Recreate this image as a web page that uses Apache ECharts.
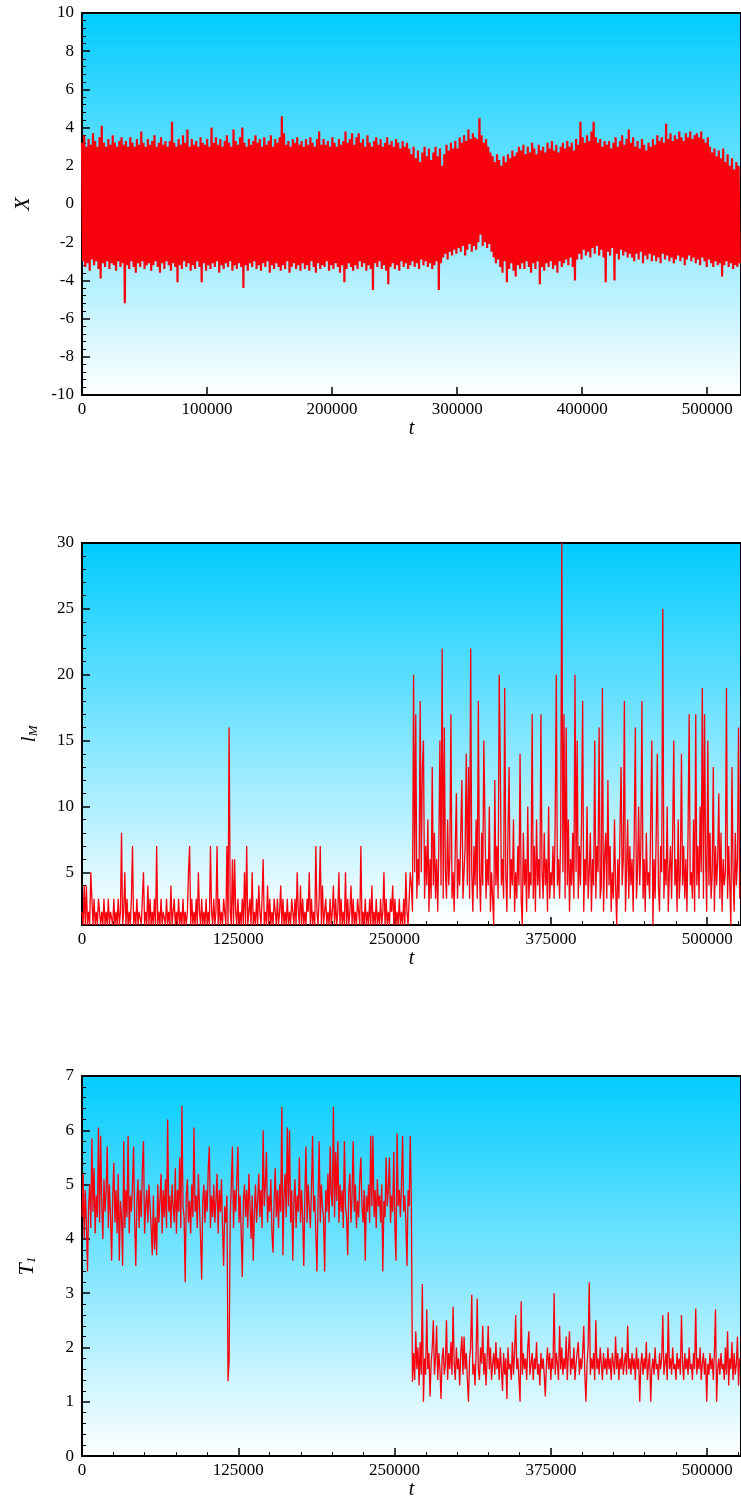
<!DOCTYPE html>
<html>
<head>
<meta charset="utf-8">
<script src="https://cdn.jsdelivr.net/npm/echarts@6/dist/echarts.min.js"></script>
<style>
  html, body { margin: 0; padding: 0; background: #fff; }
  #chart { width: 741px; height: 1501px; }
</style>
</head>
<body>
<div id="chart"></div>
<script>
// time between two stored samples
const sampleStep = 878;

// X(t), alternating upper / lower excursions of the band
const xValues = [
  3.2,-3.0,3.6,-3.3,3.0,-3.1,3.4,-3.5,3.1,-2.9,3.7,-3.2,3.3,-3.0,3.0,-3.4,3.5,-3.9,4.1,-3.1,
  3.2,-3.3,3.0,-3.0,3.4,-3.4,3.1,-3.1,3.6,-3.2,3.2,-3.5,3.0,-3.0,3.3,-3.3,3.5,-3.1,3.1,-5.2,
  3.3,-3.2,3.0,-3.4,3.5,-3.0,3.2,-3.3,3.0,-3.6,3.4,-3.1,3.1,-3.3,3.8,-3.0,3.2,-3.4,3.0,-3.2,
  3.4,-3.1,3.1,-3.5,3.3,-3.2,3.6,-3.0,3.0,-3.3,3.2,-3.6,3.5,-3.1,3.1,-3.4,3.3,-3.0,3.0,-3.2,
  3.3,-3.5,4.3,-3.1,3.2,-3.3,3.0,-4.1,3.4,-3.2,3.1,-3.4,3.6,-3.0,3.2,-3.3,3.9,-3.1,3.0,-3.5,
  3.4,-3.2,3.1,-3.4,3.3,-3.0,3.0,-3.3,3.5,-4.1,3.2,-3.1,3.1,-3.5,3.4,-3.2,3.0,-3.4,4.0,-3.1,
  3.2,-3.3,3.5,-3.0,3.1,-3.6,3.4,-3.2,3.0,-3.4,3.3,-3.1,3.6,-3.3,3.2,-3.0,3.0,-3.5,3.9,-3.2,
  3.3,-3.4,3.1,-3.1,3.5,-3.3,4.0,-4.4,3.2,-3.2,3.0,-3.5,3.4,-3.1,3.1,-3.3,3.3,-3.0,3.6,-3.4,
  3.2,-3.2,3.4,-3.5,3.0,-3.1,3.5,-3.3,3.1,-3.0,3.3,-3.6,3.6,-3.2,3.0,-3.4,3.4,-3.1,3.2,-3.3,
  3.5,-3.5,4.6,-3.2,3.7,-3.4,3.1,-3.0,3.3,-3.6,3.0,-3.3,3.4,-3.1,3.2,-3.4,3.5,-3.2,3.1,-3.5,
  3.3,-3.1,3.0,-3.4,3.4,-3.2,3.1,-3.5,3.5,-3.0,3.2,-3.3,3.0,-3.6,3.4,-3.1,3.8,-3.4,3.1,-3.2,
  3.4,-3.3,3.1,-3.0,3.3,-3.5,3.0,-3.2,3.5,-3.4,3.2,-3.1,3.0,-3.3,3.4,-3.6,3.1,-3.2,3.3,-4.1,
  3.8,-3.4,3.2,-3.1,3.4,-3.3,3.7,-3.5,3.1,-3.2,3.5,-3.4,3.7,-3.0,3.2,-3.3,3.4,-3.1,3.0,-3.5,
  3.6,-3.2,3.2,-3.4,3.0,-4.5,3.3,-3.1,3.5,-3.3,3.1,-3.0,3.4,-3.4,3.0,-3.2,3.2,-3.5,3.5,-4.2,
  3.1,-3.3,3.3,-3.1,3.0,-3.4,3.4,-3.2,3.2,-3.5,2.9,-3.0,3.3,-3.3,3.0,-3.1,3.2,-3.4,2.9,-3.2,
  2.6,-3.0,3.0,-3.3,2.4,-3.1,2.8,-3.4,2.2,-2.9,2.7,-3.2,3.0,-3.0,2.5,-3.3,2.9,-3.1,2.3,-3.4,
  2.7,-3.2,3.0,-3.0,2.5,-4.5,2.9,-3.1,2.0,-2.8,2.6,-2.6,3.1,-2.9,2.8,-2.5,3.2,-2.7,2.9,-2.4,
  3.3,-2.6,2.9,-2.3,3.5,-2.5,3.2,-2.2,3.6,-2.7,3.3,-2.4,3.9,-2.1,3.4,-2.5,3.7,-2.2,3.5,-2.4,
  3.4,-2.0,4.5,-1.6,3.6,-2.2,3.2,-2.0,3.4,-2.3,3.0,-2.1,2.7,-2.5,2.5,-2.8,2.2,-3.1,2.6,-2.9,
  2.3,-3.3,2.0,-3.6,2.5,-3.0,2.2,-4.1,2.6,-3.4,2.4,-3.1,2.8,-3.5,2.5,-3.8,2.7,-3.2,3.0,-3.4,
  2.8,-3.1,3.1,-3.4,2.6,-3.0,3.0,-3.3,2.7,-3.6,3.2,-3.1,2.9,-3.4,2.6,-3.0,3.1,-4.2,2.8,-3.3,
  3.0,-3.5,2.7,-3.1,3.2,-3.3,2.9,-3.0,3.3,-3.4,2.8,-3.2,3.1,-3.6,2.7,-3.0,3.0,-3.3,3.2,-3.1,
  2.9,-2.9,3.3,-3.2,3.0,-2.8,3.2,-3.3,2.8,-4.0,3.4,-2.9,3.1,-2.6,4.3,-2.9,3.5,-2.4,3.2,-2.7,
  3.6,-2.5,3.3,-2.8,3.8,-2.3,4.3,-2.6,3.5,-2.2,3.2,-2.7,3.4,-2.4,3.0,-2.8,3.3,-4.1,3.1,-2.5,
  3.3,-2.7,2.9,-2.3,3.2,-4.0,3.5,-2.6,3.0,-2.9,3.3,-2.4,3.6,-2.7,3.1,-2.5,3.4,-2.8,3.9,-2.6,
  3.2,-2.8,3.5,-3.0,3.0,-2.6,3.3,-2.9,2.9,-2.5,3.4,-3.1,3.1,-2.7,2.8,-2.9,3.2,-2.6,3.0,-3.0,
  3.4,-2.7,3.1,-3.0,3.6,-2.8,3.3,-3.1,3.5,-2.6,3.2,-2.9,4.2,-2.7,3.4,-3.0,3.7,-2.8,3.3,-3.1,
  3.6,-2.9,3.4,-2.7,3.8,-3.0,3.5,-2.8,3.3,-3.2,3.7,-2.9,3.5,-2.7,3.8,-3.0,3.4,-2.8,3.6,-3.1,
  3.7,-2.9,3.5,-3.2,3.8,-2.8,3.4,-3.0,3.2,-3.3,3.5,-2.9,3.0,-3.1,2.7,-3.3,2.9,-3.0,2.5,-3.2,
  2.8,-3.1,2.4,-3.8,2.9,-3.2,2.2,-3.0,2.6,-3.3,2.0,-3.1,2.4,-3.4,1.8,-3.2,2.2,-3.3,2.0,-3.1
];

// l_M(t)
const lmValues = [
  2,1,4,1,4,1,2,1,5,5, 1,3,1,2,1,3,2,1,2,1,
  3,1,2,1,3,1,2,2,1,3, 1,2,1,3,1,2,8,1,2,5,
  1,3,1,2,1,3,7,1,2,1, 3,1,2,2,1,3,5,1,2,1,
  4,1,3,1,2,1,3,1,7,1, 2,1,3,1,2,2,1,3,1,2,
  1,4,1,2,3,1,2,1,3,1, 2,1,3,1,2,1,2,5,7,1,
  3,1,2,1,3,1,5,2,1,3, 1,2,1,3,1,2,1,7,2,1,
  3,1,2,7,1,3,1,2,1,3, 2,1,7,1,16,2,1,6,1,6,
  2,1,3,1,2,1,3,1,5,1, 7,1,2,3,1,5,1,2,1,3,
  1,4,2,1,3,6,1,2,1,4, 1,3,1,2,1,3,2,1,3,1,
  2,4,1,3,1,2,1,3,1,2, 1,3,2,1,3,1,5,2,1,4,
  1,3,1,2,1,3,2,5,1,3, 1,2,1,7,2,1,3,7,1,4,
  1,2,3,1,2,1,3,1,2,4, 1,3,1,2,5,1,3,1,2,1,
  5,1,3,1,2,4,1,3,1,2, 1,3,2,1,7,1,2,1,3,1,
  2,1,3,1,4,1,2,1,3,1, 2,1,3,1,2,5,1,3,1,2,
  1,3,2,4,1,3,1,2,1,3, 1,2,1,3,1,5,2,1,3,5,
  4,2,20,5,17,3,6,4,18,5, 13,15,3,7,4,9,2,6,3,13,
  4,8,3,6,2,7,15,4,22,3, 16,5,3,9,4,6,17,3,5,2,
  7,11,3,6,4,8,12,3,5,7, 14,4,13,3,22,5,2,7,4,9,
  3,18,5,2,8,4,15,15,3,6, 4,10,2,5,3,1,12,4,7,3,
  20,13,4,6,3,19,5,2,8,13, 3,6,4,9,2,5,3,7,4,14,
  3,1,8,4,6,2,10,3,5,4, 17,3,7,2,9,4,6,3,17,5,
  3,8,4,6,2,10,3,5,4,7, 3,9,20,4,6,3,8,30,5,17,
  3,16,4,9,2,6,4,8,3,20, 5,15,3,7,4,9,18,2,6,4,
  10,3,5,8,2,6,4,15,3,7, 5,16,3,4,19,2,6,8,3,12,
  4,7,2,5,3,9,4,1,6,3, 8,13,4,6,18,2,5,9,3,7,
  4,6,2,8,16,3,5,10,4,7, 18,3,6,2,8,4,5,3,9,15,
  1,6,3,8,14,4,2,7,5,25, 3,6,4,10,2,5,7,3,8,15,
  4,6,2,9,3,5,14,4,7,3, 6,2,8,17,4,5,3,9,2,17,
  4,7,3,10,5,19,3,17,6,2, 15,4,8,3,5,13,2,7,4,6,
  11,3,8,2,6,4,5,19,3,7, 4,1,13,5,2,8,4,6,16,3
];

// T_1(t)
const t1Values = [
  4.4,5.2,4.0,4.9,4.3,3.4,4.6,5.0,4.2,5.85, 4.5,5.3,4.1,4.8,4.4,6.05,4.3,5.9,4.6,4.0,
  5.1,4.5,4.9,5.7,4.2,5.0,4.4,3.6,4.8,5.4, 4.3,4.9,4.1,5.2,3.6,4.7,4.4,3.5,5.8,4.2,
  4.9,4.4,5.9,4.1,4.8,4.5,5.0,5.7,4.3,3.5, 4.7,5.1,4.2,4.9,4.4,5.3,5.8,4.1,4.6,4.9,
  4.3,5.0,4.6,4.2,3.7,4.8,3.8,4.4,3.7,5.0, 4.3,4.7,5.2,4.1,4.9,4.4,5.1,4.2,6.2,4.5,
  4.8,4.2,5.0,4.6,4.3,5.3,4.1,4.9,4.5,5.5, 4.2,6.45,4.6,4.4,3.2,4.8,5.1,4.3,4.7,4.1,
  5.0,4.4,6.05,4.5,4.8,4.2,5.2,4.6,4.0,3.25, 4.7,5.0,4.3,4.9,4.5,5.3,5.7,4.2,4.8,4.4,
  5.0,4.3,4.7,5.2,4.1,4.9,4.5,5.1,4.2,3.5, 4.6,4.3,4.8,1.38,1.75,4.4,5.0,5.7,4.2,4.9,
  4.5,5.1,5.7,4.3,4.8,4.1,3.3,4.7,5.0,4.4, 4.9,4.2,5.2,4.6,4.0,4.8,3.6,4.5,5.0,4.3,
  4.7,5.2,4.4,4.9,4.2,6.0,4.6,5.0,5.6,4.3, 4.8,4.5,5.1,4.1,3.75,4.7,5.3,4.4,4.9,4.2,
  5.0,4.5,6.43,3.7,4.8,5.2,4.4,6.05,4.6,6.0, 4.3,4.9,3.6,4.7,5.1,4.2,4.8,4.5,5.5,4.3,
  4.9,4.4,3.5,4.8,5.7,4.3,5.0,4.6,4.2,4.9, 5.9,4.5,4.8,4.1,3.4,4.7,5.8,4.3,5.0,4.6,
  4.4,3.4,4.9,4.5,5.2,4.3,5.7,4.8,4.6,6.43, 4.4,5.6,4.7,5.8,4.3,5.0,4.5,4.9,4.2,5.8,
  4.6,4.4,3.7,4.9,5.2,4.3,4.8,5.8,4.5,5.0, 4.2,4.7,4.4,5.1,5.5,4.6,4.3,4.9,3.6,4.8,
  4.5,5.0,4.3,5.9,4.6,5.9,4.4,4.9,4.2,5.1, 4.6,4.8,4.3,5.0,3.4,4.7,4.4,5.5,4.6,4.9,
  5.5,4.3,4.8,4.5,5.6,4.2,3.6,5.94,4.6,4.9, 4.4,5.0,5.9,4.5,4.8,4.3,3.5,4.9,4.6,5.9,
  4.6,1.37,1.9,1.4,2.3,1.6,2.0,1.3,2.1,1.5, 3.17,1.0,1.8,1.5,2.7,1.6,1.9,1.1,1.7,2.0,
  2.5,1.5,1.8,2.4,1.4,1.9,1.6,1.05,1.8,2.0, 1.5,1.7,2.5,1.4,1.9,1.6,2.1,1.5,2.75,1.7,
  1.4,2.0,1.6,1.8,1.3,1.9,2.2,1.5,2.2,1.6, 1.9,1.4,1.0,1.8,2.0,2.97,1.5,1.7,1.3,1.9,
  2.9,1.6,1.4,2.0,1.7,2.4,1.5,1.9,1.3,1.8, 2.4,1.6,2.0,1.4,1.7,1.9,1.5,2.1,1.6,1.8,
  1.4,2.0,1.6,1.2,1.9,1.5,1.8,1.05,2.0,1.6, 1.7,1.4,2.1,1.5,1.9,2.6,1.6,1.8,1.4,1.0,
  2.85,1.5,1.9,1.6,1.8,1.4,2.0,2.3,1.5,1.7, 1.9,1.4,1.8,1.6,2.1,1.5,1.7,1.3,1.9,1.6,
  1.8,1.5,1.1,1.7,2.0,1.6,1.9,1.4,1.8,1.6, 3.0,1.5,1.9,1.7,1.4,2.4,1.6,2.0,1.5,1.8,
  1.6,2.2,1.4,1.9,2.3,1.5,1.8,1.6,2.0,1.4, 1.7,1.9,2.1,1.5,1.8,1.6,1.9,2.4,1.5,1.0,
  1.7,2.0,3.2,1.5,1.8,1.6,1.9,1.4,2.5,1.6, 1.8,1.5,2.0,1.7,1.4,1.9,1.6,1.8,1.5,2.0,
  1.6,1.8,1.4,1.9,1.7,1.5,2.2,1.6,1.9,1.4, 1.8,1.6,2.0,1.5,1.7,1.9,1.5,2.4,1.6,1.8,
  1.5,1.9,1.6,1.8,1.4,2.0,1.6,1.8,1.0,1.7, 1.9,1.5,1.8,1.6,2.1,1.4,1.7,1.9,1.0,1.6,
  1.8,1.5,2.0,1.6,1.7,1.4,1.9,1.6,1.8,2.6, 1.5,1.7,1.9,1.4,2.65,1.6,1.8,1.5,2.0,1.6,
  1.7,1.4,1.9,1.6,1.8,1.5,2.6,1.7,1.4,1.9, 1.6,1.8,1.5,2.0,1.6,1.7,1.4,1.9,1.6,2.72,
  1.5,1.8,1.6,2.0,1.4,1.7,1.9,1.5,1.8,1.0, 1.7,1.5,1.9,1.6,1.8,1.4,1.9,2.7,1.0,1.6,
  1.8,1.5,1.9,1.6,1.7,1.4,2.0,1.5,2.3,1.3, 1.8,1.6,2.1,1.4,1.9,1.5,1.7,2.2,1.3,1.8
];

// tick labels
const tTicksTop = [0, 100000, 200000, 300000, 400000, 500000];
const tTicksLow = [0, 125000, 250000, 375000, 500000];
const xTicks = [-10, -8, -6, -4, -2, 0, 2, 4, 6, 8, 10];
const lmTicks = [5, 10, 15, 20, 25, 30];
const t1Ticks = [0, 1, 2, 3, 4, 5, 6, 7];

function minorTicks(from, to, step, majors) {
  const out = [];
  for (let k = 0; from + k * step <= to + 1e-9; k++) {
    const v = Math.round((from + k * step) * 1000) / 1000;
    if (!majors.includes(v)) out.push(v);
  }
  return out;
}

const FONT = "'Liberation Serif', 'Times New Roman', serif";
const RED = '#f8000c';
const tMax = 527000;

const bg = {
  type: 'linear', x: 0, y: 0, x2: 0, y2: 1,
  colorStops: [{ offset: 0, color: '#00ccff' }, { offset: 1, color: '#ffffff' }]
};

const panels = [
  { top: 13, yMin: -10, yMax: 10, yTicks: xTicks, yMinor: minorTicks(-10, 10, 0.4, xTicks),
    tTicks: tTicksTop, tMinor: minorTicks(0, tMax, 20000, tTicksTop),
    name: 'X', nameGap: 48, values: xValues, width: 2.2 },
  { top: 543, yMin: 1, yMax: 30, yTicks: lmTicks, yMinor: minorTicks(2, 29, 1, lmTicks),
    tTicks: tTicksLow, tMinor: minorTicks(0, tMax, 25000, tTicksLow),
    name: '{a|l}{b|M}', nameGap: 42, values: lmValues, width: 1.3 },
  { top: 1076, yMin: 0, yMax: 7, yTicks: t1Ticks, yMinor: minorTicks(0, 7, 0.2, t1Ticks),
    tTicks: tTicksLow, tMinor: minorTicks(0, tMax, 25000, tTicksLow),
    name: '{a|T}{b|1}', nameGap: 44, values: t1Values, width: 1.3 }
];

const grid = [], xAxis = [], yAxis = [], series = [];
const labelStyle = { fontFamily: FONT, fontSize: 17, color: '#000', formatter: v => String(v) };

panels.forEach((p, g) => {
  grid.push({
    left: 82, top: p.top, width: 662, height: 382,
    show: true, backgroundColor: bg, borderColor: '#000', borderWidth: 2
  });
  xAxis.push({
    gridIndex: g, type: 'value', position: 'bottom', min: 0, max: tMax,
    axisLine: { show: true, onZero: false, lineStyle: { color: '#000', width: 2 } },
    axisTick: { show: true, inside: true, length: 8, customValues: p.tTicks, lineStyle: { color: '#000', width: 1.5 } },
    axisLabel: Object.assign({ margin: 6, customValues: p.tTicks }, labelStyle),
    splitLine: { show: false },
    name: 't', nameLocation: 'middle', nameGap: 14,
    nameTextStyle: { fontFamily: FONT, fontStyle: 'italic', fontSize: 20, color: '#000' }
  }, {
    gridIndex: g, type: 'value', position: 'bottom', min: 0, max: tMax,
    axisLine: { show: false },
    axisTick: { show: true, inside: true, length: 4, customValues: p.tMinor, lineStyle: { color: '#000', width: 1 } },
    axisLabel: { show: false }, splitLine: { show: false }
  });
  yAxis.push({
    gridIndex: g, type: 'value', position: 'left', min: p.yMin, max: p.yMax,
    axisLine: { show: true, onZero: false, lineStyle: { color: '#000', width: 2 } },
    axisTick: { show: true, inside: true, length: 8, customValues: p.yTicks, lineStyle: { color: '#000', width: 1.5 } },
    axisLabel: Object.assign({ margin: 8, customValues: p.yTicks }, labelStyle),
    splitLine: { show: false },
    name: p.name, nameLocation: 'middle', nameGap: p.nameGap,
    nameTextStyle: {
      fontFamily: FONT, fontStyle: 'italic', fontSize: 22, color: '#000',
      rich: {
        a: { fontFamily: FONT, fontStyle: 'italic', fontSize: 22, color: '#000' },
        b: { fontFamily: FONT, fontStyle: 'italic', fontSize: 13, color: '#000', verticalAlign: 'bottom', padding: [6, 0, 0, 0] }
      }
    }
  }, {
    gridIndex: g, type: 'value', position: 'left', min: p.yMin, max: p.yMax,
    axisLine: { show: false },
    axisTick: { show: true, inside: true, length: 4, customValues: p.yMinor, lineStyle: { color: '#000', width: 1 } },
    axisLabel: { show: false }, splitLine: { show: false }
  });
  series.push({
    type: 'line', xAxisIndex: 2 * g, yAxisIndex: 2 * g,
    data: p.values.map((v, i) => [i * sampleStep, v]),
    showSymbol: false, symbol: 'none', silent: true,
    lineStyle: { color: RED, width: p.width }
  });
});

const chart = echarts.init(document.getElementById('chart'), null, { renderer: 'canvas' });
chart.setOption({ animation: false, grid, xAxis, yAxis, series });
</script>
</body>
</html>
